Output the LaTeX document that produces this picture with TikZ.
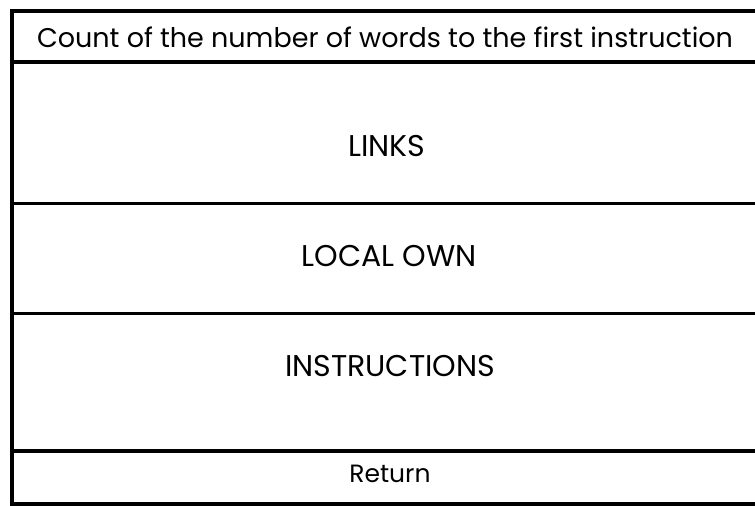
\documentclass[tikz,border=0pt]{standalone}
\usepackage{fontspec}
\setmainfont{Poppins}
\begin{document}
\begin{tikzpicture}[x=1pt,y=-1pt,
  rule/.style={line width=3.6pt,line cap=rect},
  field/.style={font=\fontsize{30}{36}\selectfont,anchor=center,inner sep=0pt},
  title/.style={font=\fontsize{27}{32}\selectfont,anchor=center,inner sep=0pt},
  small/.style={font=\fontsize{25}{30}\selectfont,anchor=center,inner sep=0pt}]
  \useasboundingbox (0,0) rectangle (755,506);
  % left border and horizontal separators, open on the right
  \draw[rule] (12,11) -- (12,504);
  \foreach \y in {11,62,203.5,313.5,451,504}
    \draw[rule] (12,\y) -- (760,\y);
  % field labels
  \node[title] (count) at (385,37) {Count of the number of words to the first instruction};
  \node[field] (links) at (387,146) {LINKS};
  \node[field] (own) at (389,256) {LOCAL OWN};
  \node[field] (instr) at (390,366) {INSTRUCTIONS};
  \node[small] (ret) at (390,474) {Return};
\end{tikzpicture}
\end{document}
